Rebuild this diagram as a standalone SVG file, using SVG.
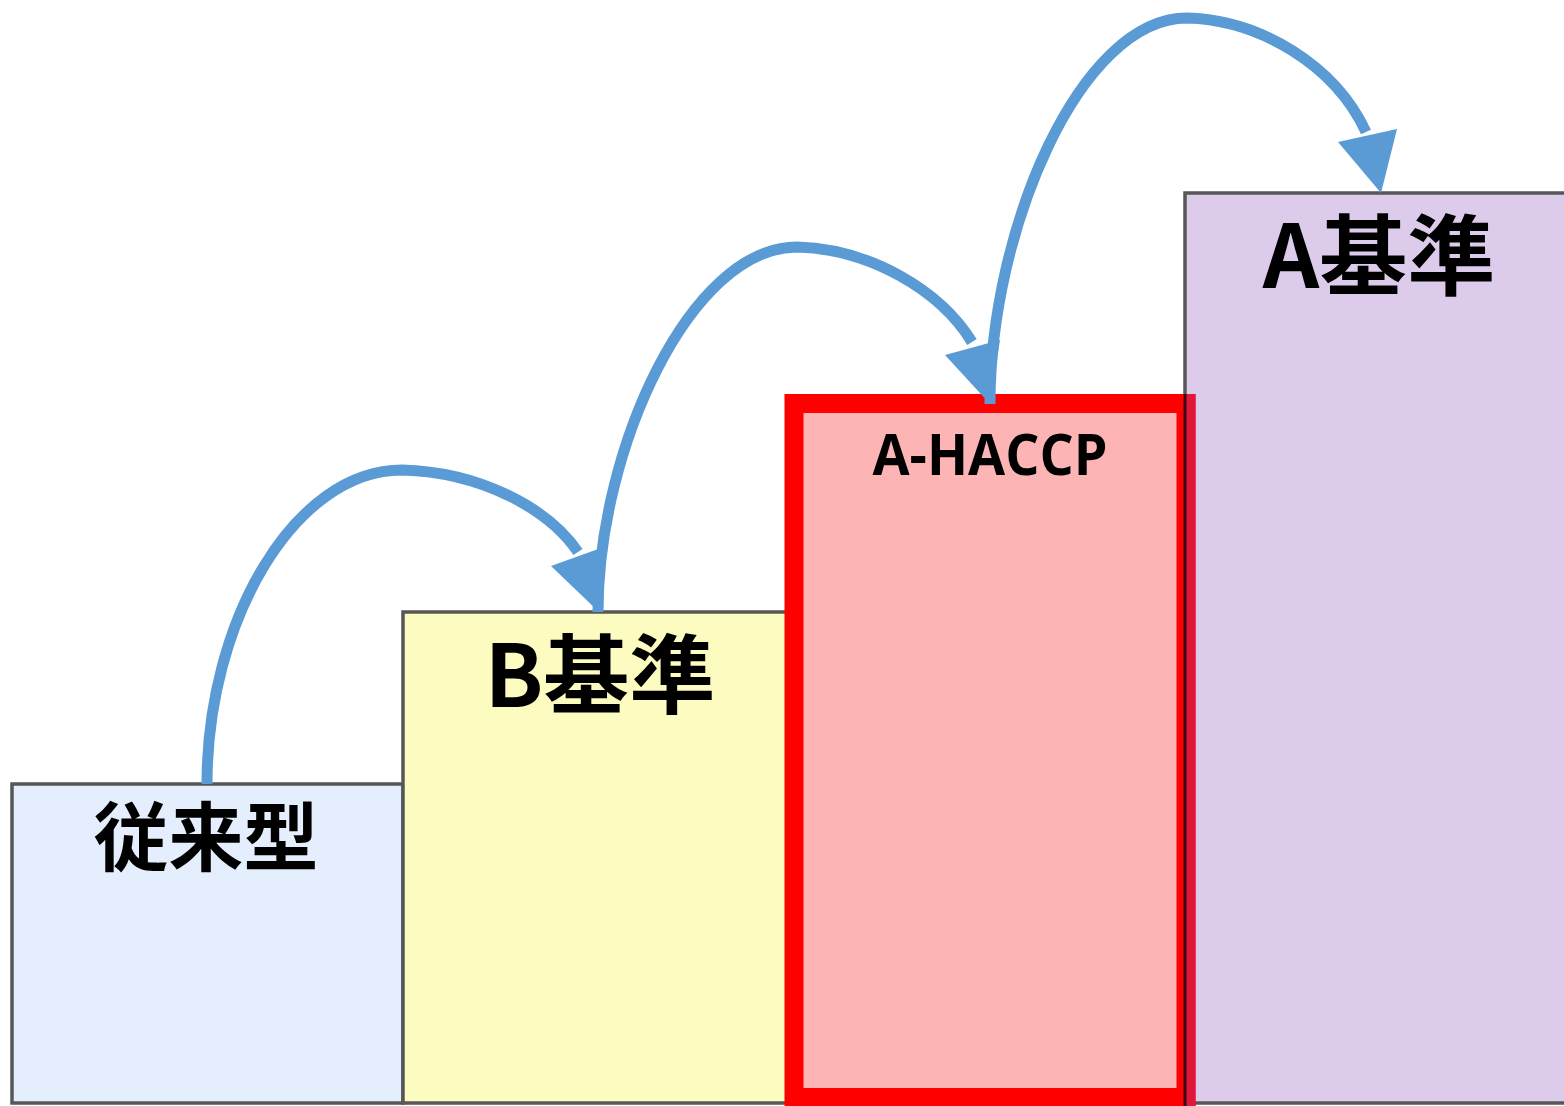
<svg xmlns="http://www.w3.org/2000/svg" width="1564" height="1106" viewBox="0 0 1564 1106">
<style>
.box{stroke:#575757;stroke-width:3.5}
.lbl{font-family:"Noto Sans CJK JP","Noto Sans",sans-serif;font-weight:bold;fill:#000;text-anchor:middle}
.conn{fill:none;stroke:#5B9BD5;stroke-width:11}
.head{fill:#5B9BD5;stroke:none}
</style>
<rect width="1564" height="1106" fill="#ffffff"/>
<g id="node-juraigata">
<rect class="box" x="12" y="784" width="391" height="319" fill="#E4EEFC"/>
<text class="lbl" x="206" y="865" font-size="75">従来型</text>
</g>
<g id="node-b-kijun">
<rect class="box" x="403" y="612" width="390" height="491" fill="#FCFCC0"/>
<text class="lbl" x="600" y="707" font-size="86">B基準</text>
</g>
<g id="node-a-kijun">
<rect class="box" x="1185" y="193" width="385" height="910" fill="#DCCBEB"/>
<text class="lbl" x="1379" y="288" font-size="88">A基準</text>
</g>
<g id="node-a-haccp">
<rect x="794" y="403.5" width="392" height="694" fill="#FDB4B4" stroke="#FF0000" stroke-width="19"/>
<rect x="1186" y="394" width="9.5" height="712" fill="#E0163A"/>
<line x1="1185" y1="394" x2="1185" y2="1106" stroke="#3A0A14" stroke-width="3"/>
<text x="990" y="475" font-family="'Open Sans','Noto Sans',sans-serif" font-weight="bold" font-size="57" text-anchor="middle" textLength="235" lengthAdjust="spacingAndGlyphs">A-HACCP</text>
</g>
<g id="connectors">
<path class="conn" d="M207,784 C207,620 295,470 402,470 C480,472 548,508 578,552"/>
<polygon class="head" points="551,566 601,548 599,612"/>
<path class="conn" d="M598,612 C598,450 690,247 797,247 C870,249 940,290 972,342"/>
<polygon class="head" points="945,355 1000,340 990,404"/>
<path class="conn" d="M990,404 C990,230 1080,18 1187,18 C1260,20 1335,65 1366,132"/>
<polygon class="head" points="1338,142 1397,129 1381,193"/>
</g>
</svg>
